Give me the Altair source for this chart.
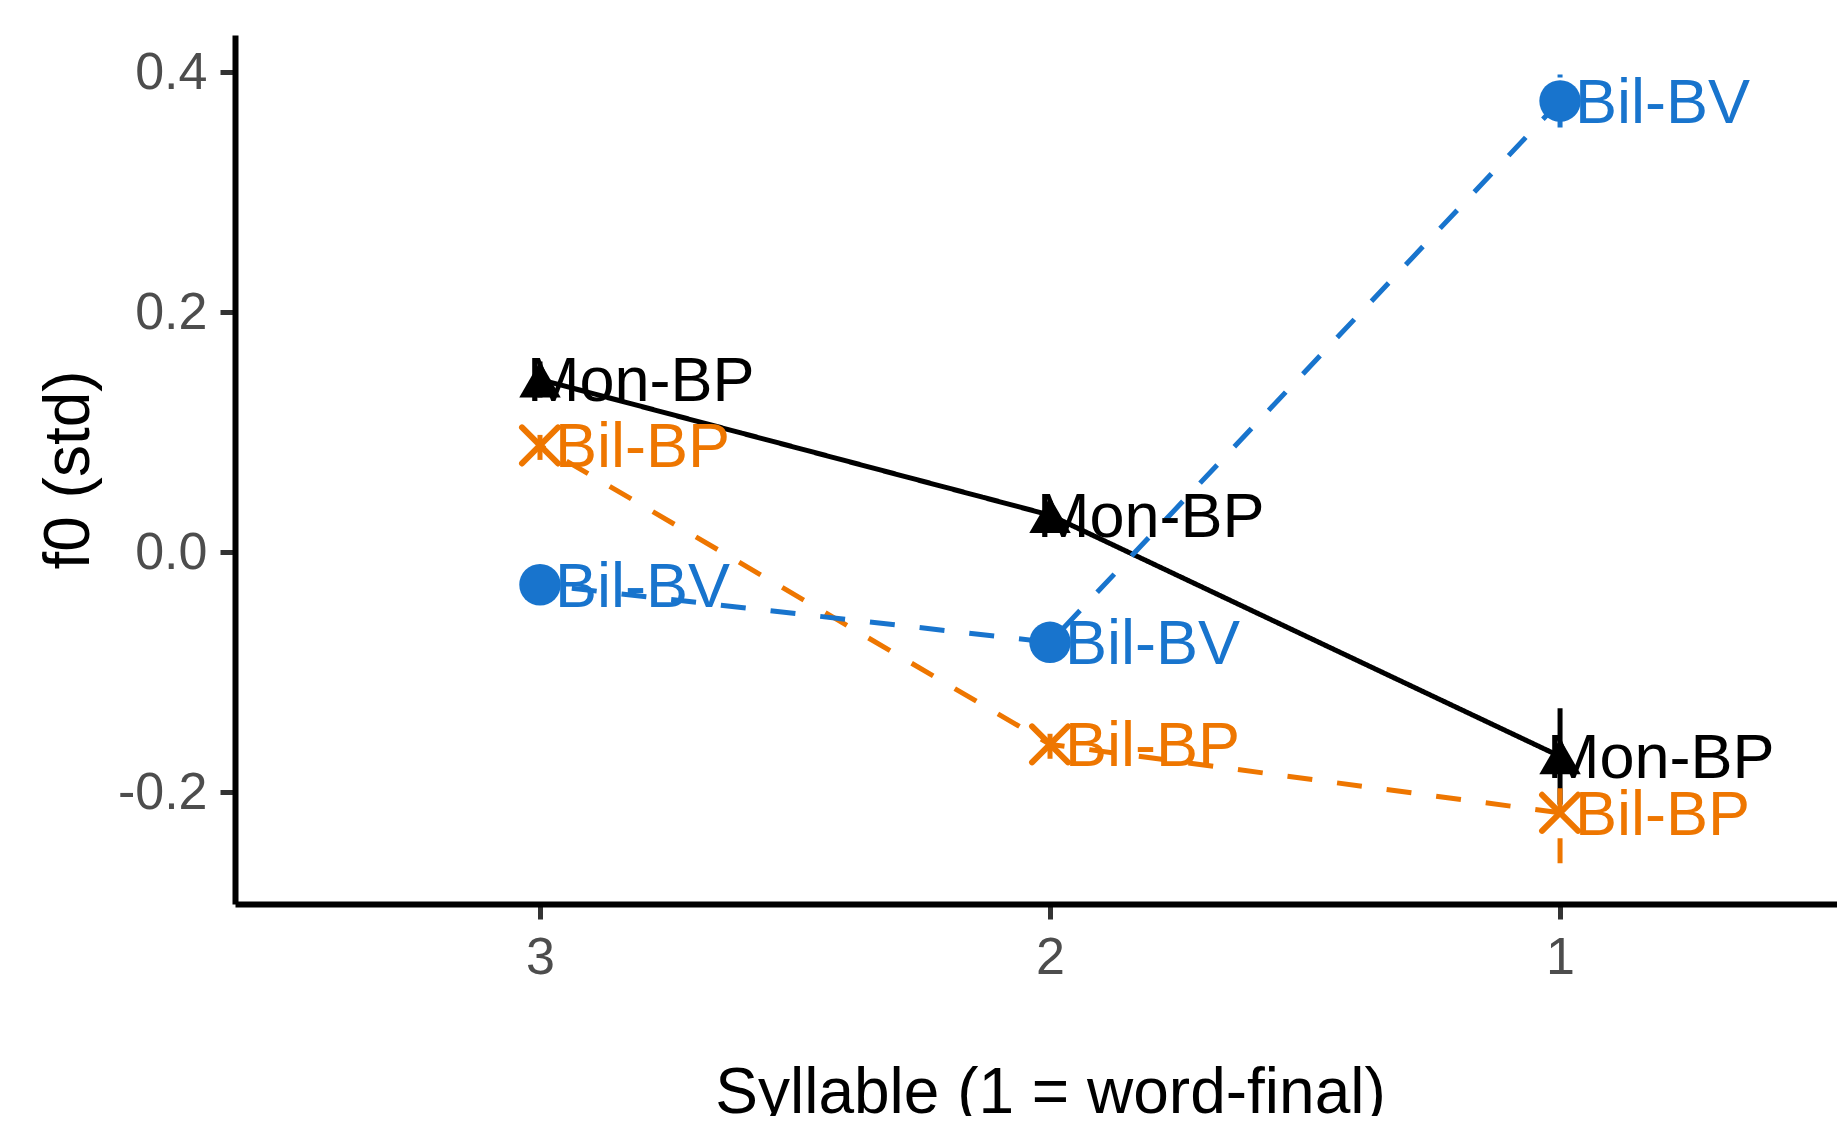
import altair as alt
import pandas as pd

groups = ["Mon-BP", "Bil-BP", "Bil-BV"]
syllables = [3, 2, 1]
mon_bp = [0.144, 0.031, -0.170]
bil_bp = [0.089, -0.160, -0.217]
bil_bv = [-0.027, -0.075, 0.376]
mon_bp_err = [0.015, 0.012, 0.040]
bil_bp_err = [0.012, 0.012, 0.042]
bil_bv_err = [0.012, 0.012, 0.022]

colors = ["#000000", "#EE7600", "#1874CD"]
dashes = [[1, 0], [25, 25], [25, 25]]

rows = []
for g, vals, errs in [("Mon-BP", mon_bp, mon_bp_err), ("Bil-BP", bil_bp, bil_bp_err), ("Bil-BV", bil_bv, bil_bv_err)]:
    for s, v, e in zip(syllables, vals, errs):
        rows.append({"group": g, "syl": s, "f0": v, "lo": v - e, "hi": v + e})
df = pd.DataFrame(rows)

FONT = "Liberation Sans"

x = alt.X("syl:Q",
          scale=alt.Scale(domain=[0.457, 3.598], reverse=True, nice=False, zero=False),
          axis=alt.Axis(values=[1, 2, 3], format="d", title="Syllable (1 = word-final)",
                        grid=False, titleX=815))
y = alt.Y("f0:Q",
          scale=alt.Scale(domain=[-0.293, 0.431], nice=False, zero=False),
          axis=alt.Axis(values=[-0.2, 0.0, 0.2, 0.4], title="f0 (std)", grid=False,
                        labelExpr="datum.value < 0 ? '-' + format(-datum.value, '.1f') : format(datum.value, '.1f')"))
color = alt.Color("group:N", scale=alt.Scale(domain=groups, range=colors), legend=None)
dash = alt.StrokeDash("group:N", scale=alt.Scale(domain=groups, range=dashes), legend=None)

base = alt.Chart(df)

lines = base.mark_line(strokeWidth=5).encode(x=x, y=y, color=color, strokeDash=dash,
                                             detail="group:N", order="syl:Q")
errs = base.mark_rule(strokeWidth=5).encode(x=x, y=alt.Y("lo:Q"), y2="hi:Q", color=color, strokeDash=dash)

filled = base.transform_filter("datum.group != 'Bil-BP'").mark_point(filled=True, opacity=1, size=1720).encode(
    x=x, y=y, color=color,
    shape=alt.Shape("group:N", scale=alt.Scale(domain=["Mon-BP", "Bil-BV"], range=["triangle-up", "circle"]), legend=None))
crosses = base.transform_filter("datum.group == 'Bil-BP'").mark_point(
    filled=False, opacity=1, size=1296, strokeWidth=6, shape="M-1,-1L1,1M-1,1L1,-1", strokeCap="round").encode(
    x=x, y=y, color=color)

text_mon = base.transform_filter("datum.group == 'Mon-BP'").mark_text(
    align="left", baseline="middle", dx=-13, dy=3, fontSize=63, font=FONT).encode(
    x=x, y=y, color=color, text="group:N")
text_bil = base.transform_filter("datum.group != 'Mon-BP'").mark_text(
    align="left", baseline="middle", dx=15, dy=3, fontSize=63, font=FONT).encode(
    x=x, y=y, color=color, text="group:N")

chart = alt.layer(lines, errs, filled, crosses, text_mon, text_bil).properties(
    width=1602, height=869,
    autosize=alt.AutoSizeParams(type="none"),
    padding={"left": 227, "top": 27, "right": 0, "bottom": 212},
).configure_view(stroke=None).configure_axis(
    domainColor="black", domainWidth=6, tickColor="#333333", tickWidth=5, tickSize=15,
    labelColor="#4D4D4D", labelFont=FONT, labelFontSize=52, labelPadding=13,
    titleColor="black", titleFont=FONT, titleFontSize=64, titleFontWeight="normal",
).configure_axisX(titlePadding=78).configure_axisY(titlePadding=16)

chart.save("out.html", embed_options={"renderer": "svg", "actions": False})
